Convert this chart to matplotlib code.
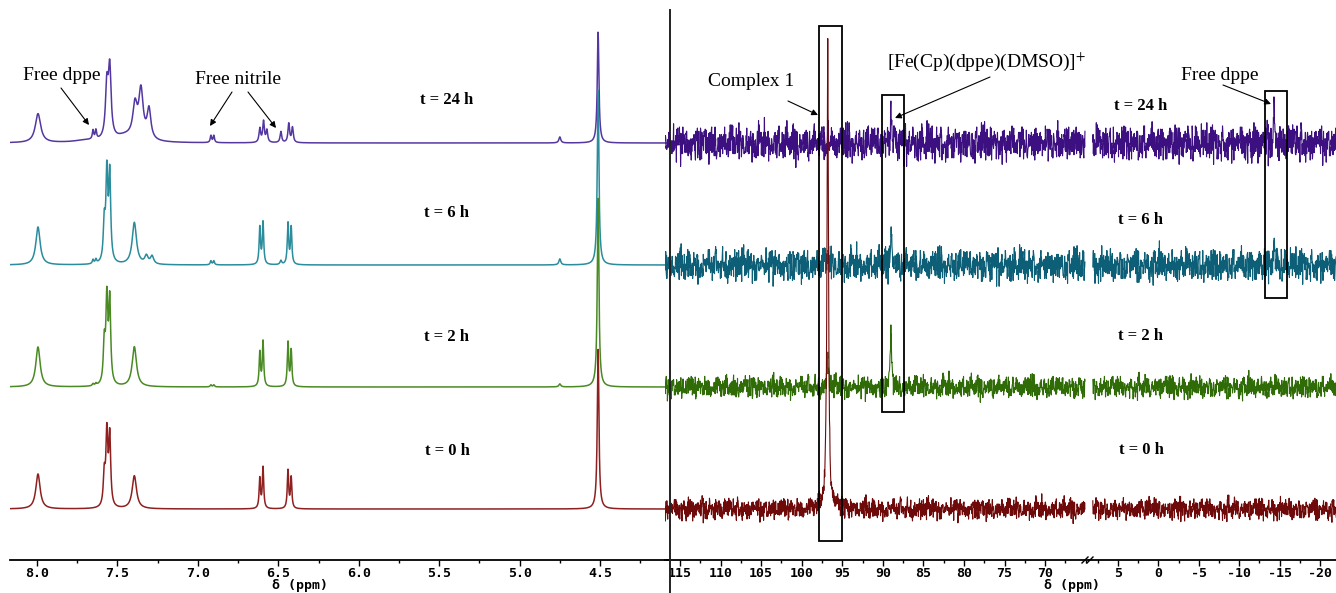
import matplotlib.pyplot as plt
import matplotlib.patches
import numpy as np
from matplotlib.ticker import MultipleLocator

W, H = 1336, 593

LABELS = ["t = 24 h", "t = 6 h", "t = 2 h", "t = 0 h"]
BASELINES_PX = [143, 265, 387, 509]
LABEL_Y_LEFT = [100, 213, 337, 451]
LABEL_Y_RIGHT = [106, 220, 336, 450]
LINE_COLORS = ["#5438a0", "#2a8c9c", "#4a8a24", "#8e2020"]
NOISE_COLORS = ["#3c1080", "#0c5f76", "#2f6c08", "#6e0a0a"]
NOISE_SCALE = [1.6, 1.45, 1.0, 0.95]

# 1H peaks: position (ppm), height (px), half width (ppm)
H1_PPM_24H = [7.994, 7.70, 7.652, 7.634, 7.566, 7.548, 7.45, 7.391, 7.354, 7.304,
              6.919, 6.901, 6.615, 6.592, 6.571, 6.484, 6.435, 6.412, 4.75, 4.512]
H1_HGT_24H = [29, 2, 9, 9, 51, 68, 6, 32, 48, 30,
              7, 7, 14, 21, 12, 11, 19, 15, 6, 111]
H1_WID_24H = [0.02, 0.08, 0.005, 0.005, 0.01, 0.01, 0.08, 0.016, 0.016, 0.014,
              0.005, 0.005, 0.006, 0.006, 0.006, 0.006, 0.006, 0.006, 0.007, 0.006]

H1_PPM_6H = [7.994, 7.652, 7.634, 7.582, 7.566, 7.548, 7.395, 7.32, 7.285,
             6.919, 6.901, 6.615, 6.595, 6.484, 6.44, 6.42, 4.75, 4.512]
H1_HGT_6H = [38, 4, 4, 38, 87, 87, 42, 8, 8,
             4, 4, 37, 42, 4, 41, 37, 6, 175]
H1_WID_6H = [0.016, 0.005, 0.005, 0.007, 0.007, 0.007, 0.016, 0.012, 0.012,
             0.005, 0.005, 0.005, 0.005, 0.006, 0.005, 0.005, 0.007, 0.006]

H1_PPM_2H = [7.994, 7.652, 7.634, 7.582, 7.566, 7.548, 7.395,
             6.919, 6.901, 6.615, 6.595, 6.44, 6.42, 4.75, 4.512]
H1_HGT_2H = [40, 2, 2, 40, 83, 83, 40,
             2, 2, 34, 45, 44, 36, 3, 189]
H1_WID_2H = [0.016, 0.005, 0.005, 0.007, 0.007, 0.007, 0.016,
             0.005, 0.005, 0.005, 0.005, 0.005, 0.005, 0.007, 0.006]

H1_PPM_0H = [7.994, 7.582, 7.566, 7.548, 7.395, 6.615, 6.595, 6.44, 6.42, 4.512]
H1_HGT_0H = [35, 31, 72, 70, 33, 30, 41, 38, 31, 160]
H1_WID_0H = [0.016, 0.007, 0.007, 0.007, 0.016, 0.005, 0.005, 0.005, 0.005, 0.006]

# 31P peaks: position (ppm), height (px), half width (ppm)
P31_PPM_24H = [96.8, 89.0, -14.3]
P31_HGT_24H = [8, 34, 28]
P31_PPM_6H = [96.8, 89.0, -14.3]
P31_HGT_6H = [12, 42, 18]
P31_PPM_2H = [96.8, 89.0]
P31_HGT_2H = [30, 55]
P31_PPM_0H = [96.8, 96.8]
P31_HGT_0H = [455, 18]
P31_WID_0H = [0.1, 0.35]

# baseline noise of the 31P traces, px
NOISE = [3, -5, 7, -2, -8, 4, 1, -6, 9, -3, 2, -7, 5, -1, -4, 8, -9, 3, 6, -2,
         -5, 1, 10, -6, 2, -3, 7, -8, 4, -1, -10, 5, 2, -4, 8, -2, -6, 3, 1, -7,
         6, -3, 12, -5, 2, -9, 4, 7, -1, -4, 3, -6, 8, -2, -11, 5, 1, -3, 6, -8,
         2, 4, -5, 9, -1, -7, 3, 5, -2, -4, 7, -6, 1, 13, -3, -8, 4, 2, -5, 6,
         -1, -9, 3, 8, -4, 2, -6, 5, -2, -14, 7, 1, -3, 4, -7, 9, -2, -5, 3, 6, -1]

H1_TICKS = [8.0, 7.5, 7.0, 6.5, 6.0, 5.5, 5.0, 4.5]
P31_TICKS_A = [115, 110, 105, 100, 95, 90, 85, 80, 75, 70]
P31_TICKS_B = [5, 0, -5, -10, -15, -20]

SERIF = "Liberation Serif"
MONO = "DejaVu Sans Mono"
plt.rcParams["mathtext.fontset"] = "stix"


def lorentz(x, centers, heights, widths):
    y = np.zeros_like(x)
    for c, h, w in zip(centers, heights, widths):
        y += h / (1 + ((x - c) / w) ** 2)
    return y


def noise_trace(n, offset):
    a = np.array(NOISE, dtype=float)
    b = a[:97]
    i = np.arange(n)
    return (a[(i * 37 + offset) % len(a)] + b[(i * 29 + 3 * offset) % len(b)]) / 1.5


def fig_axes(fig, x0, x1):
    # pixel box -> figure fraction, bottom spine at y = 560 px
    return fig.add_axes([x0 / W, (H - 560) / H, (x1 - x0) / W, 560 / H])


def style_axis(ax, lim, ticks, fmt, minor):
    ax.set_xlim(*lim)
    ax.set_ylim(0, 560)
    for s in ["top", "left", "right"]:
        ax.spines[s].set_visible(False)
    ax.spines["bottom"].set_linewidth(1.3)
    ax.set_yticks([])
    ax.set_xticks(ticks)
    ax.set_xticklabels([fmt.format(t) for t in ticks], fontfamily=MONO,
                       fontweight="bold", fontsize=9.5)
    ax.xaxis.set_minor_locator(MultipleLocator(minor))
    ax.tick_params(axis="x", which="major", length=4, width=1.0, pad=1)
    ax.tick_params(axis="x", which="minor", length=2.5, width=1.0)
    ax.patch.set_alpha(0)


fig = plt.figure(figsize=(W / 100, H / 100), dpi=100)

# ---- 1H panel
ax_h = fig_axes(fig, 10, 670)
style_axis(ax_h, (8.168, 4.065), H1_TICKS, "{:.1f}", 0.25)
x_h = np.linspace(8.168, 4.065, 6000)
h1_sets = [
    (H1_PPM_24H, H1_HGT_24H, H1_WID_24H),
    (H1_PPM_6H, H1_HGT_6H, H1_WID_6H),
    (H1_PPM_2H, H1_HGT_2H, H1_WID_2H),
    (H1_PPM_0H, H1_HGT_0H, H1_WID_0H),
]
for k, (c, h, w) in enumerate(h1_sets):
    base = 560 - BASELINES_PX[k]
    ax_h.plot(x_h, base + lorentz(x_h, c, h, w), color=LINE_COLORS[k], lw=1.1, zorder=2 + k)

# ---- 31P panel, two segments with a break
ax_a = fig_axes(fig, 665, 1089)
style_axis(ax_a, (116.85, 64.6), P31_TICKS_A, "{:d}", 2.5)
ax_b = fig_axes(fig, 1089, 1336)
style_axis(ax_b, (8.57, -21.97), P31_TICKS_B, "{:d}", 2.5)

p31_sets = [
    (P31_PPM_24H, P31_HGT_24H, [0.1] * 3),
    (P31_PPM_6H, P31_HGT_6H, [0.1] * 3),
    (P31_PPM_2H, P31_HGT_2H, [0.1] * 2),
    (P31_PPM_0H, P31_HGT_0H, P31_WID_0H),
]
segments = [(ax_a, 116.9, 65.1, 1500), (ax_b, 8.1, -22.0, 900)]
for k, (c, h, w) in enumerate(p31_sets):
    base = 560 - BASELINES_PX[k]
    for j, (ax, lo, hi, n) in enumerate(segments):
        x = np.union1d(np.linspace(hi, lo, n), [p for p in c if hi < p < lo])[::-1]
        y = base + NOISE_SCALE[k] * noise_trace(len(x), 11 * k + 50 * j) + lorentz(x, c, h, w)
        ax.plot(x, y, color=NOISE_COLORS[k], lw=0.8, zorder=2 + k)

# break marks on the axis
for dx in (-3, 2):
    fig.add_artist(plt.Line2D([(1085 + dx) / W, (1091 + dx) / W],
                              [(H - 563) / H, (H - 557) / H], color="black", lw=1.0))

# divider between panels
fig.add_artist(plt.Line2D([670 / W, 670 / W], [0, (H - 10) / H], color="#222222", lw=1.4))

# axis titles
for xc in (300, 1072):
    fig.text(xc / W, 1 - 586 / H, "δ (ppm)", fontfamily=MONO, fontweight="bold",
             fontsize=9.5, ha="center", va="center")

# time labels
for k, lab in enumerate(LABELS):
    fig.text(447 / W, 1 - LABEL_Y_LEFT[k] / H, lab, fontfamily=SERIF, fontweight="bold",
             fontsize=12, ha="center", va="center")
    fig.text(1141 / W, 1 - LABEL_Y_RIGHT[k] / H, lab, fontfamily=SERIF, fontweight="bold",
             fontsize=12, ha="center", va="center")

# boxes around the 31P signals
for x0, y0, x1, y1 in [(819, 26, 842, 541), (882, 95, 904, 412), (1265, 91, 1287, 298)]:
    fig.add_artist(matplotlib.patches.Rectangle(
        (x0 / W, 1 - y1 / H), (x1 - x0) / W, (y1 - y0) / H,
        transform=fig.transFigure, fill=False, ec="black", lw=1.3, zorder=10))

# annotations
notes = [
    ("Free dppe", (62, 75), [((61, 88), (89, 125))]),
    ("Free nitrile", (238, 80), [((232, 92), (210, 126)), ((248, 92), (276, 128))]),
    ("Complex 1", (751, 82), [((788, 101), (818, 115))]),
    ("[Fe(Cp)(dppe)(DMSO)]$^{+}$", (987, 62), [((990, 77), (895, 118))]),
    ("Free dppe", (1220, 75), [((1223, 85), (1271, 104))]),
]
for text, (tx, ty), arrows in notes:
    fig.text(tx / W, 1 - ty / H, text, fontfamily=SERIF, fontsize=14,
             ha="center", va="center")
    for (sx, sy), (ex, ey) in arrows:
        fig.add_artist(matplotlib.patches.FancyArrowPatch(
            (sx / W, 1 - sy / H), (ex / W, 1 - ey / H), transform=fig.transFigure,
            arrowstyle="-|>", mutation_scale=9, lw=0.8, color="black",
            shrinkA=0, shrinkB=0))

fig.savefig("out.png", dpi=100)
